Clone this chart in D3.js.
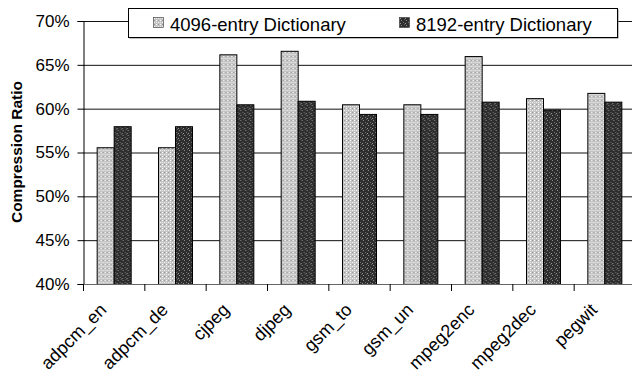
<!DOCTYPE html>
<html><head><meta charset="utf-8">
<script src="https://cdn.jsdelivr.net/npm/d3@7"></script>
<style>body{margin:0;background:#fff}svg{display:block;font-family:"Liberation Sans",Arial,sans-serif}</style>
</head><body><svg id="c" width="632" height="377"></svg>
<script>
const categories = ["adpcm_en","adpcm_de","cjpeg","djpeg","gsm_to","gsm_un","mpeg2enc","mpeg2dec","pegwit"];
const seriesNames = ["4096-entry Dictionary","8192-entry Dictionary"];
const values4096 = [0.556,0.556,0.662,0.666,0.605,0.605,0.660,0.612,0.618];
const values8192 = [0.580,0.580,0.605,0.609,0.594,0.594,0.608,0.599,0.608];
const yTicks = [0.40,0.45,0.50,0.55,0.60,0.65,0.70];

const svg = d3.select("#c");
const defs = svg.append("defs");
// light pattern
const pl = defs.append("pattern").attr("id","pLight").attr("width",4).attr("height",4).attr("patternUnits","userSpaceOnUse");
pl.append("rect").attr("width",4).attr("height",4).attr("fill","#c4c4c4");
pl.append("rect").attr("x",0).attr("y",0).attr("width",1).attr("height",1).attr("fill","#ffffff");
pl.append("rect").attr("x",2).attr("y",2).attr("width",1).attr("height",1).attr("fill","#f0f0f0");
pl.append("rect").attr("x",2).attr("y",0).attr("width",1).attr("height",1).attr("fill","#9a9a9a");
pl.append("rect").attr("x",0).attr("y",2).attr("width",1).attr("height",1).attr("fill","#e4e4e4");
// dark pattern
const pd = defs.append("pattern").attr("id","pDark").attr("width",5).attr("height",5).attr("patternUnits","userSpaceOnUse");
pd.append("rect").attr("width",5).attr("height",5).attr("fill","#2e2e2e");
pd.append("rect").attr("x",1).attr("y",0).attr("width",1).attr("height",1).attr("fill","#8a8a8a");
pd.append("rect").attr("x",3).attr("y",2).attr("width",1).attr("height",1).attr("fill","#707070");
pd.append("rect").attr("x",0).attr("y",3).attr("width",1).attr("height",1).attr("fill","#959595");
pd.append("rect").attr("x",4).attr("y",4).attr("width",1).attr("height",1).attr("fill","#606060");
const fills = ["url(#pLight)","url(#pDark)"];

const pLeft = 83, pRight = 635, pTop = 21, pBottom = 284;
const x = d3.scaleBand().domain(categories).range([pLeft,pRight]).paddingInner(0.4456).paddingOuter(0.2228);
const xs = d3.scaleBand().domain([0,1]).range([0,x.bandwidth()]);
const y = d3.scaleLinear().domain([0.40,0.70]).range([pBottom,pTop]);
const fmt = d3.format(".0%");

// gridlines
svg.append("g").selectAll("line").data(yTicks.filter(t=>t>0.40)).join("line")
  .attr("x1",pLeft).attr("x2",632).attr("y1",d=>y(d)+0.5).attr("y2",d=>y(d)+0.5)
  .attr("stroke","#111").attr("stroke-width",1);

// y axis
const ya = svg.append("g").attr("transform",`translate(${pLeft+0.5},0)`)
  .call(d3.axisLeft(y).tickValues(yTicks).tickFormat(fmt).tickSize(6).tickPadding(8));
ya.select(".domain").attr("stroke","#000");
ya.selectAll(".tick line").attr("stroke","#000");
ya.selectAll("text").attr("font-size",17).attr("fill","#000").attr("font-family","Liberation Sans, Arial, sans-serif");

// bars
const data = categories.map((c,i)=>({c, v:[values4096[i],values8192[i]]}));
const g = svg.append("g");
g.selectAll("g").data(data).join("g").attr("transform",d=>`translate(${x(d.c)},0)`)
  .selectAll("rect").data(d=>d.v.map((v,k)=>({v,k}))).join("rect")
  .attr("x",d=>xs(d.k)+0.5).attr("width",xs.bandwidth())
  .attr("y",d=>y(d.v)+0.5).attr("height",d=>pBottom-y(d.v))
  .attr("fill",d=>fills[d.k]).attr("stroke","#000").attr("stroke-width",1);

// x axis line and ticks at band boundaries
svg.append("line").attr("x1",pLeft).attr("x2",632).attr("y1",pBottom+0.5).attr("y2",pBottom+0.5).attr("stroke","#666");
const step = x.step();
svg.append("g").selectAll("line").data(d3.range(categories.length)).join("line")
  .attr("x1",i=>pLeft+i*step+0.5).attr("x2",i=>pLeft+i*step+0.5)
  .attr("y1",pBottom).attr("y2",pBottom+7).attr("stroke","#000");
// x labels
svg.append("g").selectAll("text").data(categories).join("text")
  .attr("transform",d=>`translate(${x(d)+x.bandwidth()/2-6},${pBottom+27}) rotate(-45)`)
  .attr("text-anchor","end").attr("font-size",18).attr("fill","#000").text(d=>d);

// y title
svg.append("text").attr("transform",`translate(22,152) rotate(-90)`)
  .attr("text-anchor","middle").attr("font-size",15.5).attr("font-weight","bold").text("Compression Ratio");

// legend
const lg = svg.append("g");
lg.append("rect").attr("x",129.5).attr("y",9.5).attr("width",489).attr("height",29).attr("fill","#808080");
lg.append("rect").attr("x",128.5).attr("y",8.5).attr("width",489).attr("height",29).attr("fill","#fff").attr("stroke","#000");
const lx = [153,399];
seriesNames.forEach((n,k)=>{
  lg.append("rect").attr("x",lx[k]+0.5).attr("y",17.5).attr("width",10).attr("height",10).attr("fill",fills[k]).attr("stroke","#333").attr("stroke-width",0.6);
  lg.append("text").attr("x",lx[k]+17).attr("y",31).attr("font-size",18.5).attr("fill","#000").text(n);
});
</script></body></html>
